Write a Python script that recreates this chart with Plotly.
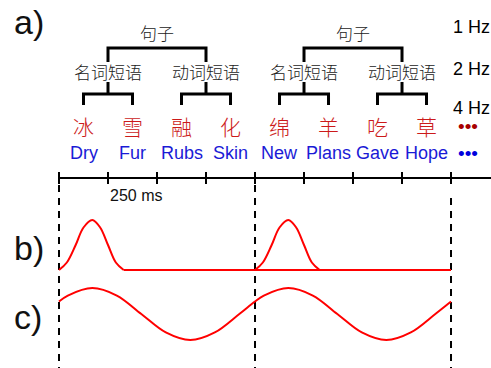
import plotly.graph_objects as go

# ---- content -------------------------------------------------------------
chars = ["冰", "雪", "融", "化", "绵", "羊", "吃", "草"]
words = ["Dry", "Fur", "Rubs", "Skin", "New", "Plans", "Gave", "Hope"]
phrases = ["名词短语", "动词短语", "名词短语", "动词短语"]
sentences = ["句子", "句子"]
rate_labels = ["1 Hz", "2 Hz", "4 Hz"]
panel_labels = ["a)", "b)", "c)"]
syllable_s = 0.25                      # one syllable every 250 ms
tick_times_s = [0.0, 0.25, 0.5, 0.75, 1.0, 1.25, 1.5, 1.75, 2.0]
boundary_times_s = [0.0, 1.0, 2.0]     # sentence boundaries (dashed)

# b) sentence-rate pulse response (one pulse per sentence)
pulse1_t = [0.0, 0.04, 0.085, 0.125, 0.17, 0.21, 0.25, 0.29, 0.33]
pulse1_v = [0.0, 0.15, 0.5, 0.85, 1.0, 0.85, 0.5, 0.15, 0.0]
pulse2_t = [1.0, 1.04, 1.085, 1.125, 1.17, 1.21, 1.25, 1.29, 1.33]
pulse2_v = [0.0, 0.15, 0.5, 0.85, 1.0, 0.85, 0.5, 0.15, 0.0]
base_t = [0.33, 1.0, 1.33, 2.0]
base_v = [0.0, 0.0, 0.0, 0.0]

# c) 1 Hz oscillation
wave_t = [0.0, 0.045, 0.17, 0.295, 0.42, 0.545, 0.67, 0.795, 0.92, 1.0,
          1.045, 1.17, 1.295, 1.42, 1.545, 1.67, 1.795, 1.92, 2.0]
wave_v = [0.48, 0.71, 1.0, 0.71, 0.0, -0.71, -1.0, -0.71, 0.0, 0.48,
          0.71, 1.0, 0.71, 0.0, -0.71, -1.0, -0.71, 0.0, 0.48]

# ---- styling -------------------------------------------------------------
W, H = 491, 368
X_LEFT, X_RIGHT = -0.301, 2.204        # seconds visible across the canvas
SANS = "Liberation Sans, Arial, sans-serif"
CJK = "Noto Sans CJK SC, sans-serif"
RED_TXT = "#cc1a1a"
BLUE_TXT = "#1a1ad6"
RED_LINE = "#ff0000"

fig = go.Figure()

# row heights of the diagram (layout units on the main y axis, top = 0)
Y_SENT, Y_PHRASE, Y_CHAR, Y_WORD = 32, 71, 126, 153
Y_AXIS = 178


def seg(xs, ys, width=3, color="black", dash=None, yaxis="y"):
    fig.add_trace(go.Scatter(x=xs, y=ys, mode="lines", yaxis=yaxis,
                             line=dict(color=color, width=width, dash=dash),
                             hoverinfo="skip", showlegend=False))


syll_centers = [syllable_s * (i + 0.5) for i in range(len(chars))]
phrase_centers = [(syll_centers[2 * i] + syll_centers[2 * i + 1]) / 2
                  for i in range(len(phrases))]
sent_centers = [(phrase_centers[2 * i] + phrase_centers[2 * i + 1]) / 2
                for i in range(len(sentences))]

# tree brackets: sentence -> phrases
for i in range(len(sentences)):
    a, b = phrase_centers[2 * i], phrase_centers[2 * i + 1]
    seg([a, a, b, b], [62, 48, 48, 62])
# phrase -> syllables
for i, pc in enumerate(phrase_centers):
    a, b = syll_centers[2 * i], syll_centers[2 * i + 1]
    seg([pc, pc], [82, 94])
    seg([a, a, b, b], [105, 94, 94, 105])

# time axis with 250 ms ticks
seg([tick_times_s[0], X_RIGHT], [Y_AXIS, Y_AXIS], width=2)
for t in tick_times_s:
    seg([t, t], [Y_AXIS - 6, Y_AXIS + 6], width=2)

# sentence boundaries
for t, top in zip(boundary_times_s, [185, 185, 198]):
    seg([t, t], [top, H], width=2, dash="7px,6px")

# b) and c) waveforms
for xs, ys in [(pulse1_t, pulse1_v), (pulse2_t, pulse2_v)]:
    fig.add_trace(go.Scatter(x=xs, y=ys, mode="lines", yaxis="y2",
                             line=dict(color=RED_LINE, width=2, shape="spline"),
                             hoverinfo="skip", showlegend=False))
fig.add_trace(go.Scatter(x=base_t, y=base_v, mode="lines", yaxis="y2",
                         line=dict(color=RED_LINE, width=2),
                         hoverinfo="skip", showlegend=False))
fig.add_trace(go.Scatter(x=wave_t, y=wave_v, mode="lines", yaxis="y3",
                         line=dict(color=RED_LINE, width=2, shape="spline"),
                         hoverinfo="skip", showlegend=False))

ann = []


def text(x, y, s, size, color="black", family=SANS, xanchor="center",
         weight="normal"):
    ann.append(dict(x=x, y=y, xref="x", yref="y", text=s, showarrow=False,
                    xanchor=xanchor, yanchor="middle",
                    font=dict(size=size, color=color, family=family,
                              weight=weight)))


for x, s in zip(sent_centers, sentences):
    text(x, Y_SENT, s, 17, "#222222", CJK, weight=300)
for x, s in zip(phrase_centers, phrases):
    text(x, Y_PHRASE, s, 17, "#222222", CJK, weight=300)
for x, s in zip(syll_centers, chars):
    text(x, Y_CHAR, s, 21, RED_TXT, CJK, weight=300)
for x, s in zip(syll_centers, words):
    text(x, Y_WORD, s, 18, BLUE_TXT)

# rate labels in the right margin
for y, s in zip([27, 69, 108], rate_labels):
    text(tick_times_s[-1], y, s, 18, "black", xanchor="left")
text(2.087, Y_CHAR, "•••", 19, "#a80000")
text(2.087, Y_WORD, "•••", 19, "#0000dd")

text(tick_times_s[1], 195, "250 ms", 16, "#111111", xanchor="left")

for y, s in zip([22, 248, 317], panel_labels):
    text(-0.24, y, s, 34, "#111111", xanchor="left")

# waveform panels: value ranges padded so lines at the extremes aren't clipped
B_RANGE = [-0.1, 1.1]      # pulse panel, 50 px per unit, zero at 270 px
C_RANGE = [-1.1, 1.1]      # oscillation panel, 26 px per unit, zero at 314 px

fig.update_layout(
    width=W, height=H,
    margin=dict(l=0, r=0, t=0, b=0, pad=0),
    paper_bgcolor="white", plot_bgcolor="rgba(0,0,0,0)",
    showlegend=False, annotations=ann,
    xaxis=dict(range=[X_LEFT, X_RIGHT], visible=False, fixedrange=True,
               domain=[0, 1]),
    yaxis=dict(range=[H, 0], visible=False, fixedrange=True, domain=[0, 1]),
    yaxis2=dict(range=B_RANGE, visible=False, fixedrange=True, anchor="x",
                domain=[1 - (270 - 50 * B_RANGE[0]) / H,
                        1 - (270 - 50 * B_RANGE[1]) / H]),
    yaxis3=dict(range=C_RANGE, visible=False, fixedrange=True, anchor="x",
                domain=[1 - (314 - 26 * C_RANGE[0]) / H,
                        1 - (314 - 26 * C_RANGE[1]) / H]),
)

fig.write_html("out.html", config={"displayModeBar": False})
